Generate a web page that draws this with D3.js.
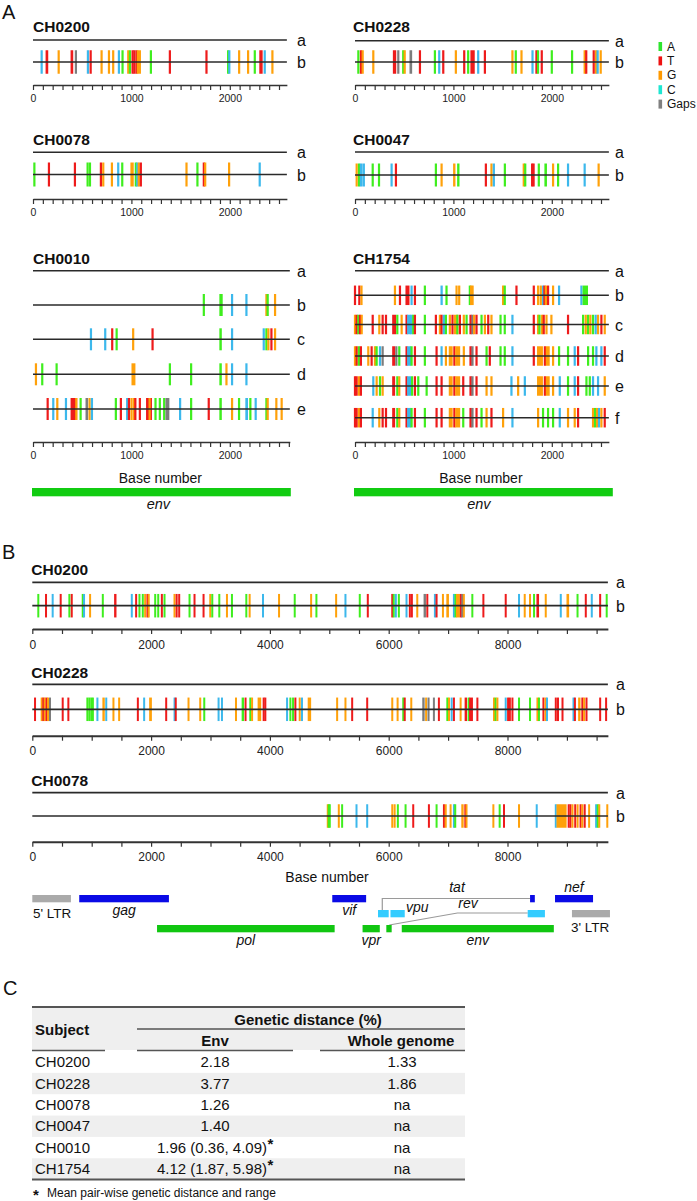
<!DOCTYPE html>
<html><head><meta charset="utf-8">
<script src="https://cdn.jsdelivr.net/npm/d3@7"></script>
<style>body{margin:0;background:#fff} svg{display:block} text{font-family:"Liberation Sans",Arial,sans-serif}</style>
</head><body><svg id="c" width="697" height="1201"></svg>
<script>
// ---------- DATA ----------
const bases = ["A","T","G","C","-"];
const baseColors = ["#3fee1e","#ee1b1b","#ffa10a","#3cb8ec","#7d7d7d"];
const legendLabels = ["A","T","G","C","Gaps"];
const legendColors = ["#2ee52e","#ee1111","#ff9900","#1ee6d2","#808080"];
const tickLabelsA = [0,1000,2000];
const tickLabelsB = [0,2000,4000,6000,8000];

// mutations: [position (bp), base, optional length (bp)]
const A_CH0200_b = [[88,"C"],[139,"T",27],[261,"G"],[393,"T",27],[436,"-",15],[558,"C"],[586,"T"],[697,"G"],[772,"G"],[815,"G"],[873,"C"],[910,"A"],[968,"G"],[985,"A"],[1012,"T"],[1030,"T"],[1052,"T"],[1066,"G"],[1086,"G"],[1198,"A"],[1391,"T"],[1763,"T"],[1983,"A"],[1995,"C"],[2095,"G"],[2186,"G"],[2254,"A"],[2311,"T",34],[2355,"C"],[2433,"G",20]];
const A_CH0228_b = [[34,"A"],[61,"T"],[78,"G"],[186,"G"],[396,"T",34],[440,"-",17],[490,"A"],[505,"G"],[565,"-",27],[660,"T"],[812,"A"],[856,"C"],[897,"T"],[1025,"G"],[1110,"T"],[1150,"A"],[1184,"T",44],[1252,"C"],[1320,"T"],[1600,"G"],[1634,"A"],[1692,"G"],[1804,"C"],[1844,"T"],[1860,"A"],[1898,"T"],[2000,"A"],[2206,"A"],[2334,"G"],[2350,"T"],[2426,"T",20],[2450,"G"],[2466,"C"],[2497,"G"]];
const A_CH0078_b = [[14,"A"],[162,"T"],[426,"T"],[555,"A"],[579,"A"],[690,"T"],[714,"G"],[802,"G"],[866,"C"],[907,"A"],[1001,"G",34],[1045,"A"],[1060,"C"],[1075,"G"],[1096,"T"],[1560,"G"],[1671,"A"],[1736,"T"],[1750,"G"],[1993,"G"],[2304,"C"]];
const A_CH0047_b = [[17,"G"],[41,"A"],[60,"C"],[85,"C",27],[180,"A"],[244,"A"],[372,"C"],[416,"T",17],[822,"A"],[880,"G"],[1008,"G",24],[1049,"A",24],[1330,"T"],[1387,"G"],[1411,"C"],[1523,"A"],[1715,"G"],[1730,"A"],[1800,"T"],[1815,"T"],[1868,"A"],[1936,"A",26],[2013,"G"],[2064,"A"],[2165,"C"],[2334,"C"],[2476,"G"]];
const A_CH0010_b = [[1736,"A"],[1905,"A",34],[2023,"C"],[2169,"C"],[2372,"G"],[2385,"A"],[2460,"G"]];
const A_CH0010_c = [[589,"C"],[734,"C"],[805,"T"],[850,"A"],[1018,"G"],[1215,"T"],[1905,"A",25],[2023,"C"],[2345,"C"],[2372,"A"],[2392,"G"],[2423,"T"],[2460,"G"]];
const A_CH0010_d = [[30,"G"],[94,"A"],[240,"A"],[1012,"G",40],[1391,"A"],[1607,"A"],[1905,"A",25],[1966,"G"],[2023,"C"],[2169,"C"]];
const A_CH0010_e = [[149,"T"],[206,"C"],[247,"G"],[335,"C"],[393,"T",67],[440,"G"],[484,"A"],[545,"-",26],[575,"G"],[599,"C"],[842,"A"],[893,"T"],[957,"C"],[975,"T"],[1001,"G",17],[1025,"G"],[1040,"T"],[1086,"T"],[1160,"T",60],[1185,"G"],[1245,"A"],[1289,"A"],[1333,"A"],[1357,"-",40],[1495,"C"],[1607,"A"],[1786,"T"],[1905,"A",25],[2023,"G"],[2094,"A"],[2169,"C",27],[2209,"A"],[2263,"C"],[2372,"A"],[2385,"G"],[2473,"G"],[2527,"G"]];
const A_CH1754_b = [[0,"T"],[44,"T",20],[66,"G"],[406,"G"],[457,"T"],[524,"T",41],[575,"C"],[609,"T"],[710,"A"],[880,"C",23],[930,"A"],[1032,"G"],[1059,"G"],[1167,"A"],[1180,"G"],[1195,"G"],[1505,"G"],[1522,"A"],[1641,"T"],[1817,"T"],[1861,"G"],[1888,"G"],[1911,"C"],[1925,"T"],[1940,"G"],[1962,"T"],[2013,"G"],[2074,"C"],[2301,"C"],[2324,"A",55]];
const A_CH1754_c = [[0,"G"],[17,"T"],[34,"A"],[51,"T"],[68,"G"],[180,"T"],[247,"G"],[281,"T"],[315,"T"],[389,"T",40],[430,"A"],[474,"G"],[524,"T"],[541,"C",40],[575,"C"],[592,"A"],[609,"T"],[710,"A"],[822,"T"],[863,"G"],[880,"T"],[903,"C"],[924,"A"],[964,"G"],[991,"T"],[1015,"G",45],[1040,"A"],[1066,"T"],[1106,"G"],[1134,"A"],[1174,"T",25],[1194,"-",15],[1211,"G"],[1235,"T"],[1286,"A"],[1320,"G"],[1354,"T"],[1387,"G"],[1479,"A"],[1522,"A"],[1600,"C"],[1817,"T"],[1861,"G"],[1875,"A"],[1900,"G"],[1918,"T"],[1946,"G"],[1996,"G"],[2165,"T"],[2318,"A"],[2345,"G"],[2369,"A"],[2392,"G"],[2419,"A"],[2446,"C"],[2470,"G"],[2504,"T"],[2538,"G"]];
const A_CH1754_d = [[0,"G"],[17,"T"],[40,"A"],[60,"T"],[135,"G"],[169,"T"],[203,"G"],[220,"A"],[254,"C"],[281,"-"],[389,"T",30],[420,"-",20],[450,"A"],[524,"T"],[541,"C",40],[575,"A"],[609,"T"],[710,"A"],[829,"T"],[880,"C"],[924,"G"],[964,"G",40],[1010,"T"],[1030,"G",50],[1106,"G"],[1174,"T",25],[1194,"-",20],[1235,"T"],[1337,"A"],[1370,"T"],[1479,"A"],[1522,"A"],[1600,"C"],[1817,"T"],[1861,"G",60],[1930,"T"],[1950,"G",40],[2013,"G"],[2074,"A"],[2165,"A"],[2233,"C"],[2267,"T"],[2369,"A"],[2419,"A"],[2453,"C"],[2504,"C"],[2538,"T"]];
const A_CH1754_e = [[0,"T"],[17,"T"],[40,"G"],[60,"T"],[186,"C"],[220,"G"],[254,"A"],[281,"G"],[389,"T",30],[430,"A"],[450,"G"],[524,"T"],[541,"C",40],[580,"A"],[609,"T"],[643,"A"],[728,"A"],[829,"T"],[880,"T"],[964,"G",40],[1010,"T"],[1030,"G",50],[1100,"T"],[1174,"T",25],[1194,"-",20],[1235,"T"],[1337,"G"],[1387,"G"],[1590,"C"],[1658,"G"],[1726,"C"],[1861,"G",60],[1930,"T"],[1950,"G",40],[2013,"G"],[2081,"C"],[2165,"A"],[2233,"C"],[2267,"T"],[2352,"A"],[2386,"A"],[2419,"C"],[2470,"C"],[2538,"G"]];
const A_CH1754_f = [[0,"T"],[17,"T"],[40,"G"],[60,"T"],[180,"C"],[247,"G"],[281,"T"],[315,"T"],[389,"T",30],[430,"A"],[450,"G"],[524,"T"],[541,"C",40],[575,"A"],[609,"T"],[710,"A"],[829,"T"],[880,"T"],[964,"G",40],[1010,"T"],[1030,"G",50],[1100,"A"],[1174,"T",25],[1194,"-",20],[1235,"T"],[1286,"A"],[1337,"G"],[1387,"T"],[1505,"G"],[1600,"C"],[1861,"G"],[1911,"A"],[1962,"A"],[2013,"A"],[2081,"C"],[2165,"G"],[2233,"G"],[2267,"T"],[2419,"G"],[2440,"A"],[2460,"G"],[2480,"C"],[2504,"G"],[2538,"T"]];

const B_CH0200_b = [[101,"A"],[231,"T"],[343,"C"],[478,"T"],[624,"A"],[664,"T"],[849,"A"],[871,"C"],[973,"G"],[1187,"A"],[1394,"T",40],[1675,"C"],[1748,"T"],[1804,"A"],[1860,"A"],[1900,"G"],[1939,"T"],[1960,"G"],[2069,"A"],[2120,"A"],[2181,"T"],[2226,"A"],[2394,"G"],[2430,"T"],[2473,"T"],[2647,"A"],[2731,"T"],[2883,"T"],[2996,"G"],[3030,"A"],[3148,"A"],[3277,"G"],[3361,"A"],[3603,"A"],[3659,"G"],[3884,"C"],[4154,"G"],[4418,"A"],[4694,"G"],[4783,"A"],[5115,"G"],[5272,"C"],[5513,"A"],[5648,"T",34],[6060,"T"],[6085,"A"],[6120,"C"],[6171,"A"],[6300,"C"],[6356,"T"],[6390,"T"],[6481,"G"],[6604,"-",40],[6650,"T"],[6778,"C"],[6806,"T"],[6913,"G"],[6987,"G",44],[7098,"C"],[7125,"A"],[7150,"G"],[7182,"G",30],[7215,"T"],[7240,"-",20],[7265,"G",30],[7408,"A"],[7594,"T"],[7970,"T"],[8194,"C"],[8290,"G"],[8379,"G"],[8447,"A"],[8504,"T",44],[8644,"G"],[8897,"C"],[9010,"G",44],[9179,"A"],[9318,"T"],[9419,"C"],[9560,"T"],[9670,"A"]];
const B_CH0228_b = [[46,"T"],[158,"G"],[185,"T"],[210,"G"],[240,"T"],[265,"G"],[298,"-"],[512,"T"],[607,"T"],[927,"A"],[960,"A"],[993,"A"],[1020,"A"],[1096,"C",34],[1197,"G",40],[1245,"C"],[1366,"G"],[1462,"G"],[1777,"T"],[1883,"C"],[1984,"G",46],[2254,"T"],[2395,"C"],[2415,"T"],[2630,"G"],[2827,"G"],[2895,"A"],[3136,"C"],[3193,"C"],[3429,"G"],[3541,"A",40],[3590,"T",25],[3670,"A"],[3700,"G"],[3810,"G",60],[3895,"T"],[3923,"T"],[4289,"C"],[4345,"A"],[4390,"A"],[4429,"T"],[4502,"G"],[4540,"C"],[4653,"G",58],[5132,"G"],[5272,"G"],[5385,"T"],[5638,"T"],[6060,"G"],[6150,"G"],[6245,"A"],[6270,"T"],[6380,"G"],[6582,"-",40],[6630,"G",30],[6670,"-",35],[6761,"-",30],[6845,"T"],[6987,"A"],[7015,"G"],[7060,"C"],[7098,"T"],[7211,"G"],[7295,"T",40],[7345,"A"],[7370,"T",65],[7493,"T"],[7773,"G"],[7800,"A"],[7830,"G"],[7970,"C"],[8010,"T"],[8040,"T"],[8083,"T"],[8194,"A"],[8379,"A"],[8504,"G"],[8530,"A"],[8605,"T"],[8640,"G"],[8665,"C"],[8813,"T"],[8850,"T"],[8926,"T"],[9111,"C"],[9135,"T"],[9206,"G",40],[9260,"T"],[9290,"G",30],[9330,"T"],[9560,"T"],[9660,"T"]];
const B_CH0078_b = [[4974,"G"],[4990,"A"],[5008,"A"],[5160,"G"],[5216,"A"],[5458,"C"],[5638,"C"],[6060,"G"],[6100,"G"],[6154,"A"],[6284,"A"],[6413,"T"],[6677,"T"],[6806,"A"],[6930,"T"],[6960,"G"],[7042,"G"],[7098,"C"],[7120,"A"],[7239,"G",40],[7290,"T"],[7310,"G"],[7762,"G"],[7868,"A"],[7941,"T"],[8194,"G"],[8492,"C"],[8813,"C"],[8842,"G",170],[9030,"T"],[9060,"T"],[9094,"G"],[9140,"T"],[9180,"G"],[9230,"T"],[9260,"G"],[9300,"T"],[9374,"G"],[9492,"C"],[9520,"A"],[9545,"G"],[9680,"G"]];

// genome map (bp): name, start, end, row, kind
const genes = [
  ["5' LTR",0,650,0,"ltr"],["gag",790,2300,0,"blue"],["vif",5050,5620,0,"blue"],["tat2",8380,8460,0,"blue"],["nef",8800,9440,0,"blue"],
  ["tat1",5820,6000,1,"cyan"],["vpu",6030,6270,1,"cyan"],["rev2",8340,8630,1,"cyan"],["3' LTR",9085,9725,1,"ltr"],
  ["pol",2100,5090,2,"green"],["vpr",5560,5850,2,"green"],["rev1",5960,6050,2,"green"],["env",6220,8780,2,"green"]
];

// table C
const subjects = ["CH0200","CH0228","CH0078","CH0047","CH0010","CH1754"];
const envDist = ["2.18","3.77","1.26","1.40","1.96 (0.36, 4.09)","4.12 (1.87, 5.98)"];
const envStar = [false,false,false,false,true,true];
const wholeGenome = ["1.33","1.86","na","na","na","na"];

// ---------- DRAWING ----------
const svg = d3.select("#c");
const FONT = "'Liberation Sans', Arial, sans-serif";
const color = d3.scaleOrdinal().domain(bases).range(baseColors);

function txt(g, x, y, s, o = {}) {
  return g.append("text").attr("x", x).attr("y", y).text(s)
    .attr("font-size", o.size || 13).attr("font-weight", o.weight || "normal")
    .attr("font-style", o.style || "normal").attr("text-anchor", o.anchor || "start")
    .attr("fill", o.fill || "#111");
}

function seqPanel(cfg) {
  const g = svg.append("g");
  const x = d3.scaleLinear().domain([0, cfg.max]).range([cfg.x0, cfg.x0 + cfg.max * cfg.k]);
  txt(g, cfg.x0 + (cfg.titleDx || 0), cfg.titleY, cfg.title, {size: 15.5, weight: "bold"});
  const allRows = [{label: "a", y: cfg.aY, marks: []}].concat(cfg.rows);
  allRows.forEach(r => {
    g.append("g").selectAll("rect").data(r.marks).join("rect")
      .attr("x", d => x(d[0]) - cfg.minW / 2)
      .attr("width", d => Math.max(cfg.minW, (d[2] || 0) * cfg.k))
      .attr("y", r.y - cfg.h / 2).attr("height", cfg.h)
      .attr("fill", d => color(d[1]));
    g.append("line").attr("x1", x(0)).attr("x2", x(cfg.max)).attr("y1", r.y).attr("y2", r.y)
      .attr("stroke", "#2a2a2a").attr("stroke-width", cfg.lw);
    txt(g, cfg.labelX, r.y + 6, r.label, {size: 16});
  });
  const ax = d3.axisBottom(x).tickValues(d3.range(0, cfg.max, cfg.step)).tickSize(cfg.tick)
    .tickSizeOuter(0).tickPadding(cfg.pad).tickFormat(d => cfg.labels.includes(d) ? d : "");
  const a = g.append("g").attr("transform", `translate(0,${cfg.axisY})`).call(ax)
    .attr("font-family", FONT).attr("font-size", cfg.fs);
  a.select(".domain").attr("stroke", "#333").attr("stroke-width", cfg.aw);
  a.selectAll(".tick line").attr("stroke", "#333").attr("stroke-width", 1.2);
  a.selectAll(".tick text").attr("fill", "#222");
  return x;
}

// Panel letters
txt(svg, 2, 18.5, "A", {size: 20});
txt(svg, 2, 559, "B", {size: 20});
txt(svg, 3, 995, "C", {size: 20});

const colA = [33, 355];
const kA = 0.0984;
const baseA = {k: kA, minW: 2.2, lw: 1.6, step: 100, tick: 5, pad: 5, labels: tickLabelsA, fs: 10.5, aw: 1.6};
seqPanel(Object.assign({}, baseA, {title: "CH0200", x0: colA[0], max: 2580, titleY: 32, aY: 40, axisY: 85, labelX: 297, h: 23.5, rows: [{label: "b", y: 62, marks: A_CH0200_b}]}));
seqPanel(Object.assign({}, baseA, {title: "CH0228", x0: colA[1], titleDx: -2, max: 2580, titleY: 32, aY: 40.7, axisY: 85, labelX: 615, h: 23.5, rows: [{label: "b", y: 62, marks: A_CH0228_b}]}));
seqPanel(Object.assign({}, baseA, {title: "CH0078", x0: colA[0], max: 2580, titleY: 145.3, aY: 152.3, axisY: 199, labelX: 297, h: 24, rows: [{label: "b", y: 174.5, marks: A_CH0078_b}]}));
seqPanel(Object.assign({}, baseA, {title: "CH0047", x0: colA[1], titleDx: -2, max: 2580, titleY: 145.3, aY: 152, axisY: 199, labelX: 615, h: 23, rows: [{label: "b", y: 175, marks: A_CH0047_b}]}));
const xL2 = seqPanel(Object.assign({}, baseA, {title: "CH0010", x0: colA[0], max: 2610, titleY: 263.5, aY: 270.7, axisY: 442, labelX: 297, h: 22,
  rows: [{label: "b", y: 305, marks: A_CH0010_b}, {label: "c", y: 339.3, marks: A_CH0010_c}, {label: "d", y: 374.3, marks: A_CH0010_d}, {label: "e", y: 409, marks: A_CH0010_e}]}));
const xR2 = seqPanel(Object.assign({}, baseA, {title: "CH1754", x0: colA[1], titleDx: -2, max: 2580, titleY: 263.5, aY: 270.7, axisY: 442, labelX: 615, h: 19.5,
  rows: [{label: "b", y: 295.3, marks: A_CH1754_b}, {label: "c", y: 324.5, marks: A_CH1754_c}, {label: "d", y: 356, marks: A_CH1754_d}, {label: "e", y: 386, marks: A_CH1754_e}, {label: "f", y: 417.7, marks: A_CH1754_f}]}));

// legend
const lg = svg.append("g");
legendLabels.forEach((l, i) => {
  lg.append("rect").attr("x", 658.5).attr("y", 42 + i * 14.4).attr("width", 3.6).attr("height", 9).attr("fill", legendColors[i]);
  txt(lg, 667, 50.5 + i * 14.4, l, {size: 12});
});

// Base number + env bars (panel A)
[[xL2, 2610], [xR2, 2580]].forEach(([x, m]) => {
  const cx = (x(0) + x(m)) / 2;
  txt(svg, cx - 1, 483, "Base number", {size: 14, anchor: "middle"});
  svg.append("rect").attr("x", x(0) - 1).attr("width", x(2620) - x(0) + 1).attr("y", 488).attr("height", 8.3).attr("fill", "#11cc11");
  txt(svg, cx - 3, 508.5, "env", {size: 14.5, style: "italic", anchor: "middle"});
});

// Panel B
const baseB = {k: 0.0594, x0: 32.3, max: 9690, minW: 2, lw: 1.7, step: 500, tick: 5, pad: 6, labels: tickLabelsB, fs: 12, aw: 2, labelX: 616, h: 23.5};
const xB = seqPanel(Object.assign({}, baseB, {title: "CH0200", titleDx: -1, titleY: 574.5, aY: 582.3, axisY: 629, rows: [{label: "b", y: 605.7, marks: B_CH0200_b}]}));
seqPanel(Object.assign({}, baseB, {title: "CH0228", titleDx: -1, titleY: 677.7, aY: 684.3, axisY: 735.7, rows: [{label: "b", y: 709.3, marks: B_CH0228_b}]}));
seqPanel(Object.assign({}, baseB, {title: "CH0078", titleDx: -1, titleY: 786, aY: 792.7, axisY: 841.7, rows: [{label: "b", y: 816, marks: B_CH0078_b}]}));
txt(svg, 327, 882, "Base number", {size: 14, anchor: "middle"});

// genome map
const rowY = [895, 910, 925];
const kindColor = {ltr: "#aaaaaa", blue: "#0a0ae6", cyan: "#33ccff", green: "#11c611"};
const gm = svg.append("g");
const conn = gm.append("g").attr("fill", "none").attr("stroke", "#9a9a9a").attr("stroke-width", 1.2);
conn.append("path").attr("d", `M${xB(5892)},${rowY[1]} V${rowY[0] + 3.5} H${xB(8380)}`);
conn.append("path").attr("d", `M${xB(6010)},${rowY[2]} L${xB(7157)},${rowY[1] + 3} H${xB(8340)}`);
gm.selectAll("rect").data(genes).join("rect")
  .attr("x", d => xB(d[1])).attr("width", d => xB(d[2]) - xB(d[1]))
  .attr("y", d => rowY[d[3]]).attr("height", 7.3).attr("fill", d => kindColor[d[4]]);
const gl = (name) => genes.find(d => d[0] === name);
const mid = (name) => (xB(gl(name)[1]) + xB(gl(name)[2])) / 2;
txt(gm, 33, 918.3, "5' LTR", {size: 13.5});
txt(gm, 571, 931.7, "3' LTR", {size: 13.5});
txt(gm, mid("gag"), 914.5, "gag", {size: 14, style: "italic", anchor: "middle"});
txt(gm, mid("vif"), 914.5, "vif", {size: 14, style: "italic", anchor: "middle"});
txt(gm, 457, 891.5, "tat", {size: 14, style: "italic", anchor: "middle"});
txt(gm, mid("nef"), 891.5, "nef", {size: 14, style: "italic", anchor: "middle"});
txt(gm, 406, 911.5, "vpu", {size: 14, style: "italic"});
txt(gm, 468, 908, "rev", {size: 14, style: "italic", anchor: "middle"});
txt(gm, mid("pol"), 945, "pol", {size: 14, style: "italic", anchor: "middle"});
txt(gm, mid("vpr"), 945, "vpr", {size: 14, style: "italic", anchor: "middle"});
txt(gm, mid("env"), 945, "env", {size: 14, style: "italic", anchor: "middle"});

// Table C
const tb = svg.append("g");
const tL = 32, tR = 465, rowTop = 1051.5, rowH = 21.35;
tb.append("rect").attr("x", tL).attr("y", 1008).attr("width", tR - tL).attr("height", 42).attr("fill", "#efefef");
subjects.forEach((s, i) => {
  if (i % 2 === 1) tb.append("rect").attr("x", tL).attr("y", rowTop + i * rowH).attr("width", tR - tL).attr("height", rowH).attr("fill", "#efefef");
});
const rule = (x1, x2, y, w) => tb.append("line").attr("x1", x1).attr("x2", x2).attr("y1", y).attr("y2", y).attr("stroke", "#555").attr("stroke-width", w);
rule(tL, tR, 1007, 2);
rule(137, tR, 1029, 1.5);
rule(tL, 105, 1050.5, 1.5);
rule(137, 293, 1050.5, 1.5);
rule(320, tR, 1050.5, 1.5);
rule(tL, tR, 1179.5, 2);
txt(tb, 35, 1035, "Subject", {size: 15, weight: "bold"});
txt(tb, 308, 1025, "Genetic distance (%)", {size: 15, weight: "bold", anchor: "middle"});
txt(tb, 215, 1046, "Env", {size: 15, weight: "bold", anchor: "middle"});
txt(tb, 401, 1046, "Whole genome", {size: 15, weight: "bold", anchor: "middle"});
subjects.forEach((s, i) => {
  const cy = rowTop + i * rowH + rowH / 2 + 5.2;
  txt(tb, 35, cy, s, {size: 15});
  const t = txt(tb, envStar[i] ? 212 : 215, cy, envDist[i], {size: 15, anchor: "middle"});
  if (envStar[i]) {
    const bb = t.node().getBBox();
    txt(tb, bb.x + bb.width + 0.5, cy - 4, "*", {size: 15, weight: "bold"});
  }
  txt(tb, 402, cy, wholeGenome[i], {size: 15, anchor: "middle"});
});
txt(svg, 33, 1199.5, "*", {size: 15, weight: "bold"});
txt(svg, 47, 1197, "Mean pair-wise genetic distance and range", {size: 12});
</script></body></html>
